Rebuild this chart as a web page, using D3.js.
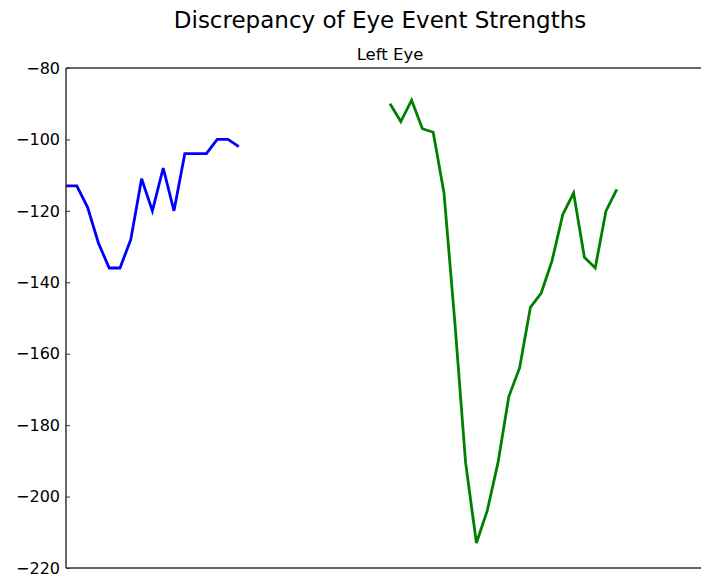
<!DOCTYPE html>
<html lang="en">
<head>
<meta charset="utf-8">
<script src="https://d3js.org/d3.v7.min.js"></script>
<style>
  body { margin: 0; background: #fff; }
  svg text { font-family: "DejaVu Sans", sans-serif; fill: #000; }
</style>
</head>
<body>
<script>
// values, indexed by sample number
const blueX = d3.range(0, 17);
const blueY = [-113, -113, -119, -129, -136, -136, -128, -111, -120, -108, -120, -104, -104, -104, -100, -100, -102];
const greenX = d3.range(30, 52);
const greenY = [-90, -95, -89, -97, -98, -115, -151, -190.5, -213, -204, -190.5, -172, -164, -147, -143, -134, -121, -115, -133, -136, -120, -114];
const yTicks = [-80, -100, -120, -140, -160, -180, -200, -220];

const width = 701, height = 576;
const margin = {top: 68, left: 66, bottom: 8};

// axes run a bit past the right edge of the window (cropped like the original)
const x = d3.scaleLinear().domain([0, 60]).range([margin.left, 714]);
const y = d3.scaleLinear().domain([-80, -220]).range([margin.top, height - margin.bottom]);

const svg = d3.select("body").append("svg")
    .attr("width", width)
    .attr("height", height);

// lines
const line = d3.line().x(d => x(d[0])).y(d => y(d[1]));

svg.append("path")
    .datum(blueX.map((d, i) => [d, blueY[i]]))
    .attr("fill", "none")
    .attr("stroke", "#0000ff")
    .attr("stroke-width", 2.8)
    .attr("d", line);

svg.append("path")
    .datum(greenX.map((d, i) => [d, greenY[i]]))
    .attr("fill", "none")
    .attr("stroke", "#008000")
    .attr("stroke-width", 2.8)
    .attr("d", line);

// y axis, inward ticks like old matplotlib
const yAxis = svg.append("g")
    .attr("transform", `translate(${margin.left},0)`)
    .call(d3.axisLeft(y).tickValues(yTicks).tickSizeInner(-4).tickSizeOuter(0).tickPadding(6)
        .tickFormat(d => d3.format("d")(d).replace("-", "\u2212")));
yAxis.select(".domain").remove();
yAxis.selectAll(".tick line").attr("stroke", "#333").attr("stroke-width", 1);
yAxis.selectAll(".tick text")
    .attr("font-size", 16)
    .attr("font-family", "DejaVu Sans, sans-serif")
    .attr("dy", "0.33em");

// spines
const spine = svg.append("g").attr("stroke", "#333").attr("stroke-width", 1.5).attr("fill", "none");
spine.append("line").attr("x1", x(0)).attr("x2", x(0)).attr("y1", y(-80)).attr("y2", y(-220));
spine.append("line").attr("x1", x(0)).attr("x2", x(60)).attr("y1", y(-80)).attr("y2", y(-80));
spine.append("line").attr("x1", x(0)).attr("x2", x(60)).attr("y1", y(-220)).attr("y2", y(-220));

// titles
svg.append("text")
    .attr("x", 380)
    .attr("y", 28)
    .attr("text-anchor", "middle")
    .attr("font-size", 23)
    .text("Discrepancy of Eye Event Strengths");

svg.append("text")
    .attr("x", (x(0) + x(60)) / 2)
    .attr("y", 60)
    .attr("text-anchor", "middle")
    .attr("font-size", 16.5)
    .text("Left Eye");
</script>
</body>
</html>
